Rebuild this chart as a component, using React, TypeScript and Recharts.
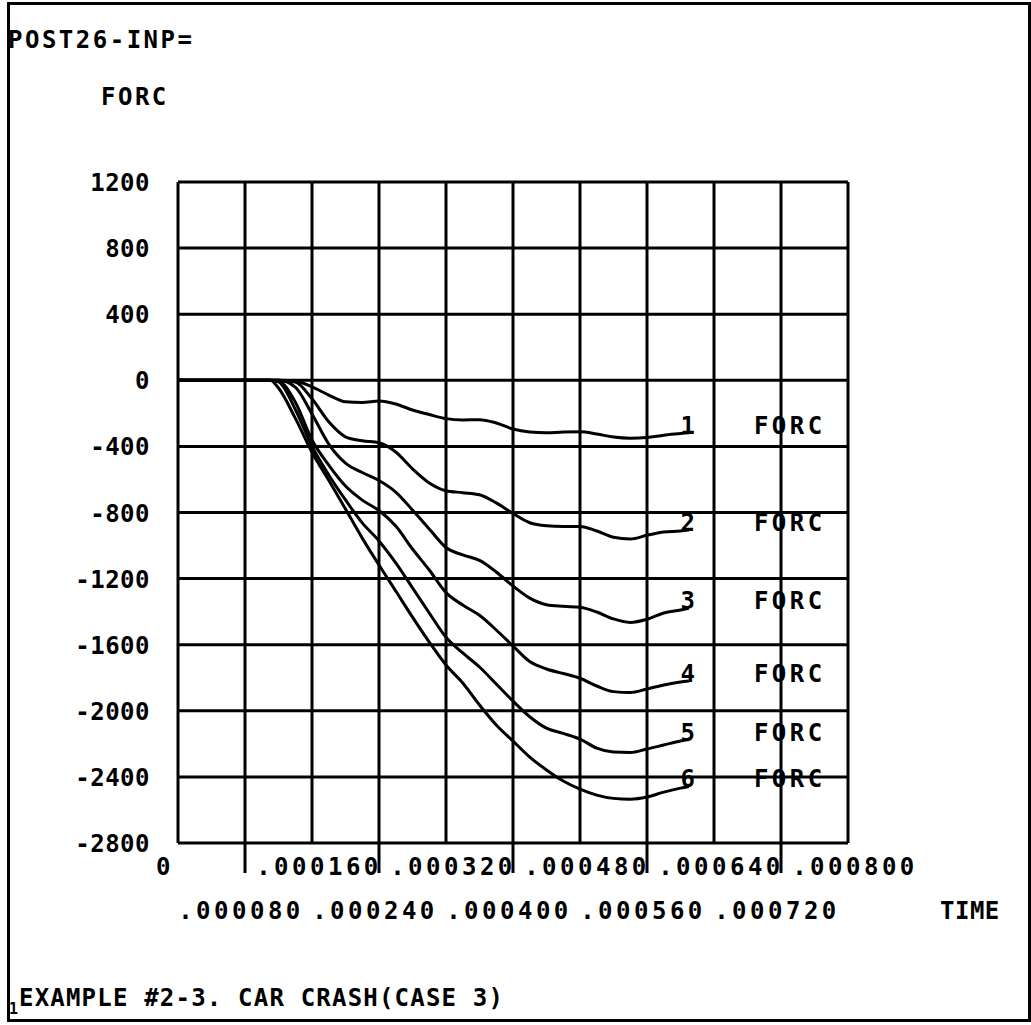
import React from 'react';
import { LineChart, Line, XAxis, YAxis, CartesianGrid } from 'recharts';

// time in seconds, force values
const time = [
  0, 0.0001, 0.00011, 0.00012, 0.00014, 0.00016, 0.00018, 0.0002, 0.00022, 0.00024,
  0.00026, 0.00028, 0.0003, 0.00032, 0.00034, 0.00036, 0.00038, 0.0004, 0.00042, 0.00044,
  0.00046, 0.00048, 0.0005, 0.00052, 0.00054, 0.00056, 0.00058, 0.0006, 0.00061,
];
const forc1 = [
  0, 0, 0, 0, -4, -40, -89, -130, -134, -125, -143, -180, -207, -232, -240, -238, -258,
  -295, -313, -318, -313, -312, -325, -343, -350, -346, -332, -322, -317,
];
const forc2 = [
  0, 0, 0, 0, -10, -112, -251, -342, -366, -378, -434, -536, -621, -668, -680, -693, -742,
  -806, -862, -880, -884, -884, -912, -950, -960, -938, -918, -912, -906,
];
const forc3 = [
  0, 0, 0, 0, -41, -204, -386, -501, -558, -606, -676, -785, -900, -1012, -1057, -1090,
  -1160, -1245, -1318, -1358, -1368, -1374, -1402, -1444, -1465, -1446, -1408, -1390, -1380,
];
const forc4 = [
  0, 0, 0, -4, -131, -361, -513, -640, -725, -788, -882, -1021, -1148, -1285, -1360, -1422,
  -1511, -1608, -1702, -1747, -1774, -1803, -1850, -1884, -1890, -1868, -1844, -1826, -1820,
];
const forc5 = [
  0, 0, 0, -10, -175, -399, -573, -724, -863, -972, -1105, -1256, -1408, -1555, -1650, -1735,
  -1838, -1941, -2036, -2105, -2137, -2171, -2226, -2250, -2253, -2231, -2207, -2183, -2174,
];
const forc6 = [
  0, 0, 0, -47, -229, -435, -605, -779, -955, -1118, -1275, -1433, -1584, -1723, -1832, -1965,
  -2086, -2183, -2280, -2358, -2425, -2474, -2510, -2530, -2535, -2522, -2492, -2468, -2458,
];

const curveIds = ['1', '2', '3', '4', '5', '6'];
const curveName = 'FORC';

const xTicks = [0, 0.00008, 0.00016, 0.00024, 0.00032, 0.0004, 0.00048, 0.00056, 0.00064, 0.00072, 0.0008];
const xTickLabels = ['0', '.000080', '.000160', '.000240', '.000320', '.000400', '.000480', '.000560', '.000640', '.000720', '.000800'];
const yTicks = [1200, 800, 400, 0, -400, -800, -1200, -1600, -2000, -2400, -2800];
const yTickLabels = ['1200', '800', '400', '0', '-400', '-800', '-1200', '-1600', '-2000', '-2400', '-2800'];

const data = time.map((t, i) => ({
  t,
  c1: forc1[i],
  c2: forc2[i],
  c3: forc3[i],
  c4: forc4[i],
  c5: forc5[i],
  c6: forc6[i],
}));

const FONT = '"DejaVu Sans Mono", "Liberation Mono", monospace';
const textStyle = { fontFamily: FONT, fontSize: 24, fontWeight: 'bold' as const, letterSpacing: 2.5, fill: '#000' };

const XTick = (props: any) => {
  const { x, y, payload } = props;
  const i = xTicks.indexOf(payload.value);
  const odd = i % 2 === 1;
  const lx = i === 0 ? x - 13 : odd ? x - 4 : x + 7;
  return (
    <g>
      {odd && <line x1={x} y1={y} x2={x} y2={y + 30} stroke="#000" strokeWidth={3} />}
      <text x={lx} y={odd ? y + 76 : y + 32} textAnchor="middle" style={{ ...textStyle, letterSpacing: 3.5 }}>
        {xTickLabels[i]}
      </text>
    </g>
  );
};

const YTick = (props: any) => {
  const { x, y, payload } = props;
  const i = yTicks.indexOf(payload.value);
  return (
    <text x={x - 28} y={y + 9} textAnchor="end" style={{ ...textStyle, letterSpacing: 0.5 }}>
      {yTickLabels[i]}
    </text>
  );
};

const endLabel = (id: string) => (props: any) => {
  const { x, y, index } = props;
  if (index !== time.length - 1) return null;
  return (
    <g key={'lbl' + id}>
      <text x={x} y={y + 1} textAnchor="middle" style={textStyle}>{id}</text>
      <text x={x + 65} y={y + 1} style={{ ...textStyle, letterSpacing: 3.5 }}>{curveName}</text>
    </g>
  );
};

export default function App() {
  return (
    <div style={{ position: 'absolute', left: 0, top: 0, width: 1031, height: 1025, background: '#fff', overflow: 'hidden' }}>
      <div
        style={{
          position: 'absolute',
          left: 7,
          top: 2,
          width: 1018,
          height: 1014,
          border: '3px solid #000',
        }}
      />
      <LineChart
        width={1031}
        height={1025}
        data={data}
        margin={{ top: 182, right: 183, bottom: 152, left: 78 }}
      >
        <CartesianGrid stroke="#000" strokeWidth={3} strokeOpacity={1} />
        <XAxis
          dataKey="t"
          type="number"
          domain={[0, 0.0008]}
          ticks={xTicks}
          interval={0}
          height={30}
          tickSize={0}
          tickMargin={0}
          axisLine={false}
          tickLine={false}
          tick={<XTick />}
        />
        <YAxis
          type="number"
          domain={[-2800, 1200]}
          ticks={yTicks}
          interval={0}
          width={100}
          tickSize={0}
          tickMargin={0}
          axisLine={false}
          tickLine={false}
          tick={<YTick />}
        />
        {curveIds.map((id) => (
          <Line
            key={id}
            type="monotone"
            dataKey={'c' + id}
            stroke="#000"
            strokeWidth={3}
            dot={false}
            activeDot={false}
            isAnimationActive={false}
            label={endLabel(id)}
          />
        ))}
      </LineChart>
      <svg width={1031} height={1025} style={{ position: 'absolute', left: 0, top: 0, pointerEvents: 'none' }}>
        <text x={8} y={48} style={textStyle}>POST26-INP=</text>
        <text x={101} y={105} style={textStyle}>FORC</text>
        <text x={940} y={919} style={{ ...textStyle, letterSpacing: 0.5 }}>TIME</text>
        <text x={9} y={1014} style={{ ...textStyle, fontSize: 15, letterSpacing: 0 }}>1</text>
        <text x={19} y={1006} style={{ ...textStyle, letterSpacing: 1.2 }}>EXAMPLE #2-3. CAR CRASH(CASE 3)</text>
      </svg>
    </div>
  );
}
